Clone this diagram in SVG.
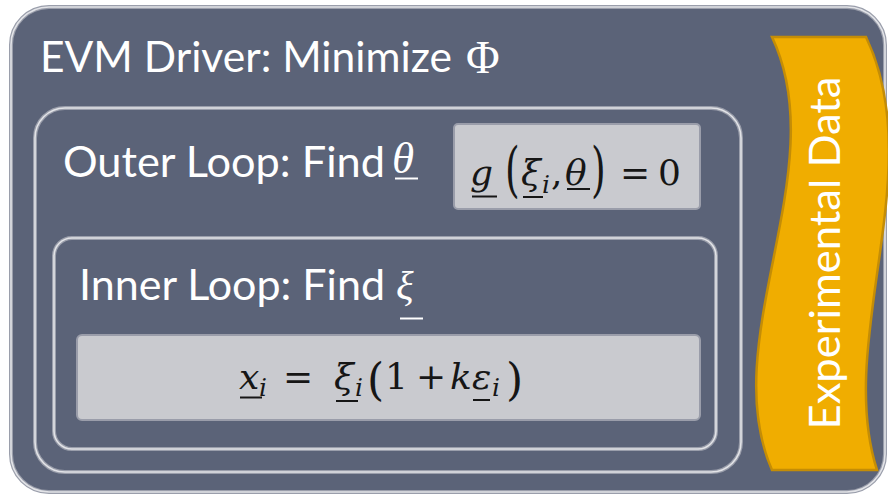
<svg xmlns="http://www.w3.org/2000/svg" width="888" height="495" viewBox="0 0 888 495">
<style>
.frame-d { fill: none; stroke: #9a9eab; stroke-width: 4; }
.frame-l { fill: none; stroke: #e2e3e7; stroke-width: 1.6; }
.panel { fill: #5b6378; }
.eqbox { fill: #c9cacf; stroke: #9a9daa; stroke-width: 2; }
.lbl { font-family: Lato, "Liberation Sans", sans-serif; font-size: 42px; fill: #ffffff; }
.m { font-family: "DejaVu Serif", "Liberation Serif", serif; font-size: 36px; fill: #161616; }
.mi { font-style: italic; }
.sub { font-style: italic; font-size: 25px; }
.ul { stroke: #161616; stroke-width: 2; }
.ulw { stroke: #ffffff; stroke-width: 2; }
.mw { font-family: "Liberation Serif", "DejaVu Serif", serif; fill: #ffffff; }
</style>
<rect width="888" height="495" fill="#ffffff"/>

<g id="evm-driver">
  <rect class="panel" x="11" y="7" width="874" height="485" rx="38"/>
  <rect class="frame-d" x="11" y="7" width="874" height="485" rx="38"/>
  <rect class="frame-l" x="11" y="7" width="874" height="485" rx="38"/>
  <text class="lbl" x="40" y="72" textLength="412" lengthAdjust="spacingAndGlyphs">EVM Driver: Minimize</text>
  <text class="mw" x="466" y="73" font-size="46">Φ</text>
</g>

<g id="outer-loop">
  <rect class="frame-d" x="35" y="108" width="706" height="364" rx="30"/>
  <rect class="frame-l" x="35" y="108" width="706" height="364" rx="30"/>
  <text class="lbl" x="63" y="177" textLength="322" lengthAdjust="spacingAndGlyphs">Outer Loop: Find</text>
  <text class="mw" x="392" y="173" font-size="45" font-style="italic">θ</text>
  <line class="ulw" x1="395" y1="178.5" x2="418" y2="178.5"/>
</g>

<g id="constraint-box">
  <rect class="eqbox" x="454" y="124" width="246" height="85" rx="4"/>
  <text class="m mi" x="470" y="185">g</text>
  <line class="ul" x1="472" y1="196.5" x2="497" y2="196.5"/>
  <text class="m" transform="translate(505,190) scale(1.05,1.65)" font-size="40">(</text>
  <text class="m"><tspan class="mi" x="521" y="185">ξ</tspan><tspan class="sub" x="542" y="193">i</tspan><tspan x="551" y="185">,</tspan><tspan class="mi" x="565" y="185">θ</tspan></text>
  <line class="ul" x1="523" y1="197" x2="543" y2="197"/>
  <line class="ul" x1="567" y1="189" x2="590" y2="189"/>
  <text class="m" transform="translate(591,190) scale(1.05,1.65)" font-size="40">)</text>
  <text class="m"><tspan x="620" y="185">=</tspan><tspan x="658" y="185">0</tspan></text>
</g>

<g id="inner-loop">
  <rect class="frame-d" x="54" y="238" width="662" height="211" rx="18"/>
  <rect class="frame-l" x="54" y="238" width="662" height="211" rx="18"/>
  <text class="lbl" x="79" y="300" textLength="306" lengthAdjust="spacingAndGlyphs">Inner Loop: Find</text>
  <text class="mw" x="396" y="299" font-size="41" font-style="italic">ξ</text>
  <line class="ulw" x1="400" y1="318.5" x2="423" y2="318.5"/>
</g>

<g id="measurement-box">
  <rect class="eqbox" x="77" y="335" width="623" height="85" rx="5"/>
  <text class="m"><tspan class="mi" x="239" y="389">x</tspan><tspan class="sub" x="259" y="396">i</tspan><tspan x="283" y="389">=</tspan><tspan class="mi" x="334" y="389">ξ</tspan><tspan class="sub" x="355" y="396">i</tspan><tspan x="367" y="395" font-size="44">(</tspan><tspan x="385" y="389">1</tspan><tspan x="416" y="389">+</tspan><tspan class="mi" x="450" y="389">k</tspan><tspan class="mi" x="472" y="389">ε</tspan><tspan class="sub" x="492" y="396">i</tspan><tspan x="506" y="395" font-size="44">)</tspan></text>
  <line class="ul" x1="240" y1="397.5" x2="262" y2="397.5"/>
  <line class="ul" x1="336" y1="401" x2="358" y2="401"/>
  <line class="ul" x1="473" y1="400" x2="490" y2="400"/>
</g>

<g id="experimental-data">
  <path d="M772,37 L866,37 C930,170 835,340 877,470 L772,470 C715,340 835,170 772,37 Z" fill="#f0ad00" stroke="#c48d06" stroke-width="2.5"/>
  <text class="lbl" transform="translate(840,253) rotate(-90)" x="0" y="0" text-anchor="middle" textLength="353" lengthAdjust="spacingAndGlyphs">Experimental Data</text>
</g>

<g id="connectors"/>
</svg>
